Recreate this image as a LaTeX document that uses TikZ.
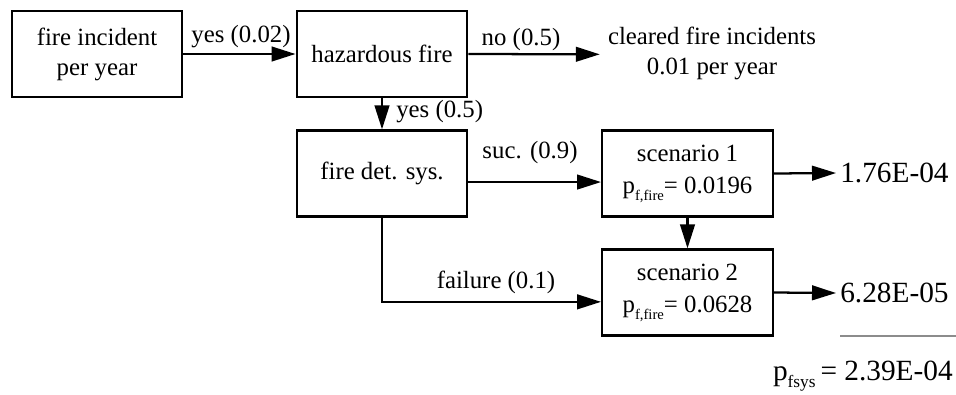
\documentclass[tikz,border=0pt]{standalone}
\usepackage{fontspec}
\setmainfont{Liberation Serif}
\usetikzlibrary{arrows.meta}
% probability symbol with a lowered subscript
\newcommand\pfsub[2][11]{p\raisebox{-0.55ex}{\fontsize{#1}{#1}\selectfont #2}}
\begin{document}
\begin{tikzpicture}[x=0.75pt,y=-0.75pt,
  txt/.style={font=\fontsize{18.6}{22.5}\selectfont},
  box/.style={txt,draw,line width=1.7pt,minimum width=128pt,minimum height=64.5pt,inner sep=0pt,align=center},
  lbl/.style={txt,inner sep=0pt},
  val/.style={font=\fontsize{22}{26}\selectfont,inner sep=0pt},
  link/.style={line width=1.7pt,-{Triangle[length=18pt,width=11pt]}},
  rule/.style={line width=1pt,draw=black!45}]
\useasboundingbox (0,0) rectangle (956,394);

% boxes
\node[box] (inc) at (97,54) {fire incident\\per year};
\node[box] (haz) at (382,54) {hazardous fire};
\node[box] (det) at (382,173.5) {fire det. sys.};
\node[box] (sc1) at (687.5,173.5) {\raisebox{-2pt}{scenario 1}\\[4pt]\pfsub{f,fire}= 0.0196};
\node[box] (sc2) at (687.5,292.5) {\raisebox{-2pt}{scenario 2}\\[4pt]\pfsub{f,fire}= 0.0628};

% end texts
\node[lbl,align=center] (clr) at (712,53) {cleared fire incidents\\0.01 per year};
\node[val,anchor=west] (v1) at (840,173) {1.76E-04};
\node[val,anchor=west] (v2) at (840,293) {6.28E-05};
\node[val,anchor=east] (tot) at (953,376) {\pfsub[13]{fsys}\,= 2.39E-04};

% connectors
\draw[link] (inc.east) -- (haz.west);
\draw[link] (haz.east) -- ([xshift=-6pt,yshift=-1pt]clr.west);
\draw[link] (haz.south) -- (det.north);
\draw[link] ([yshift=-6.4pt]det.east) -- ([yshift=-6.4pt]sc1.west);
\draw[link] (det.south) |- ([yshift=-7pt]sc2.west);
\draw[link] (sc1.south) -- (sc2.north);
\draw[link] (sc1.east) -- ([xshift=-3pt]v1.west);
\draw[link] (sc2.east) -- ([xshift=-3pt]v2.west);

% sum rule
\coordinate (rl) at (840,336);
\coordinate (rr) at (956,336);
\draw[rule] (rl) -- (rr);

% branch labels
\node[lbl] at (241,37) {yes (0.02)};
\node[lbl] at (521,40) {no (0.5)};
\node[lbl,anchor=west] at (396,112) {yes (0.5)};
\node[lbl] at (530,153) {suc. (0.9)};
\node[lbl] at (496,282) {failure (0.1)};
\end{tikzpicture}
\end{document}
